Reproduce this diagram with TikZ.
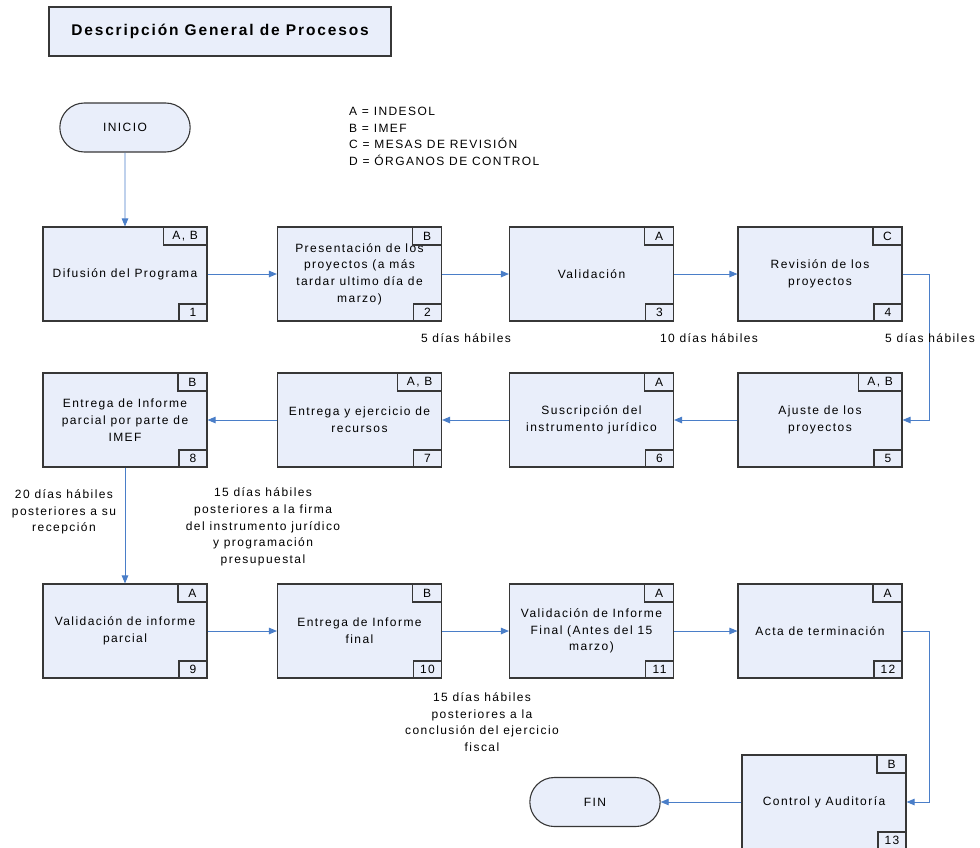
\documentclass[tikz,border=0pt]{standalone}
\usepackage{fontspec}
\setmainfont[LetterSpace=12]{Liberation Sans}
\usetikzlibrary{arrows.meta,shapes.misc}
\definecolor{boxfill}{RGB}{233,238,250}
\definecolor{conncol}{RGB}{74,126,200}
\definecolor{edgecol}{RGB}{55,55,55}
\newcommand{\pbox}[7]{%
  \node[pbox] (#1) at (#2,#3) {#4};
  \node[tagbox, anchor=north east] (#1t) at (#1.north east) {#5};
  \node[numbox, anchor=south east] (#1n) at (#1.south east) {#6};
}
\begin{document}
\begin{tikzpicture}[x=1pt,y=-1pt,
  every node/.style={font=\fontsize{12}{16.7}\selectfont, text=black},
  pbox/.style={draw=edgecol, line width=1.1pt, fill=boxfill, minimum width=164pt, minimum height=94pt, align=center, inner sep=2pt},
  tagbox/.style={draw=edgecol, line width=1.1pt, fill=boxfill, minimum width=29pt, minimum height=18pt, inner xsep=9pt, inner ysep=0pt},
  numbox/.style={draw=edgecol, line width=1.1pt, fill=boxfill, minimum width=28pt, minimum height=17pt, inner xsep=2pt, inner ysep=0pt},
  term/.style={draw=edgecol, line width=1.1pt, fill=boxfill, rounded rectangle, minimum width=137pt, minimum height=49pt},
  conn/.style={draw=conncol, line width=0.9pt, -{Triangle[length=8pt,width=6.5pt]}},
  lbl/.style={align=center, inner sep=0pt}
]
\useasboundingbox (0,0) rectangle (980,847);

% title
\node[draw=edgecol, line width=1.1pt, fill=boxfill, minimum width=342pt, minimum height=49pt, font=\fontsize{15.5}{18}\selectfont\bfseries] (title) at (220,31.5) {Descripción General de Procesos};

% legend
\node[anchor=north west, align=left, inner sep=0pt] (legend) at (349,107) {A = INDESOL\\B = IMEF\\C = MESAS DE REVISIÓN\\D = ÓRGANOS DE CONTROL};

% terminals
\node[term] (inicio) at (125,127.5) {INICIO};
\node[term] (fin) at (595,802) {FIN};

% row 1
\pbox{b1}{125}{274}{Difusión del Programa}{A, B}{1}{}
\pbox{b2}{359.5}{274}{Presentación de los\\proyectos (a más\\tardar ultimo día de\\marzo)}{B}{2}{}
\pbox{b3}{591.5}{274}{Validación}{A}{3}{}
\pbox{b4}{820}{274}{Revisión de los\\proyectos}{C}{4}{}
% row 2
\pbox{b5}{820}{420}{Ajuste de los\\proyectos}{A, B}{5}{}
\pbox{b6}{591.5}{420}{Suscripción del\\instrumento jurídico}{A}{6}{}
\pbox{b7}{359.5}{420}{Entrega y ejercicio de\\recursos}{A, B}{7}{}
\pbox{b8}{125}{420}{Entrega de Informe\\parcial por parte de\\IMEF}{B}{8}{}
% row 3
\pbox{b9}{125}{631}{Validación de informe\\parcial}{A}{9}{}
\pbox{b10}{359.5}{631}{Entrega de Informe\\final}{B}{10}{}
\pbox{b11}{591.5}{631}{Validación de Informe\\Final (Antes del 15\\marzo)}{A}{11}{}
\pbox{b12}{820}{631}{Acta de terminación}{A}{12}{}
% row 4
\pbox{b13}{824}{802}{Control y Auditoría}{B}{13}{}

% turn points
\coordinate (r1) at (929,0);
\coordinate (r2) at (929,0);

% connectors
\draw[conn] (inicio) -- (b1);
\draw[conn] (b1.east) -- (b2.west);
\draw[conn] (b2.east) -- (b3.west);
\draw[conn] (b3.east) -- (b4.west);
\draw[conn] (b4.east) -- (b4.east -| r1) -- (b5.east -| r1) -- (b5.east);
\draw[conn] (b5.west) -- (b6.east);
\draw[conn] (b6.west) -- (b7.east);
\draw[conn] (b7.west) -- (b8.east);
\draw[conn] (b8.south) -- (b9.north);
\draw[conn] (b9.east) -- (b10.west);
\draw[conn] (b10.east) -- (b11.west);
\draw[conn] (b11.east) -- (b12.west);
\draw[conn] (b12.east) -- (b12.east -| r2) -- (b13.east -| r2) -- (b13.east);
\draw[conn] (b13.west) -- (fin.east);

% labels
\node[lbl] (l1) at (466,338) {5 días hábiles};
\node[lbl] (l2) at (709,338) {10 días hábiles};
\node[lbl] (l3) at (930,338) {5 días hábiles};
\node[lbl] (l4) at (64,512) {20 días hábiles\\posteriores a su\\recepción};
\node[lbl] (l5) at (263,527) {15 días hábiles\\posteriores a la firma\\del instrumento jurídico\\y programación\\presupuestal};
\node[lbl] (l6) at (482,722) {15 días hábiles\\posteriores a la\\conclusión del ejercicio\\fiscal};
\end{tikzpicture}
\end{document}
